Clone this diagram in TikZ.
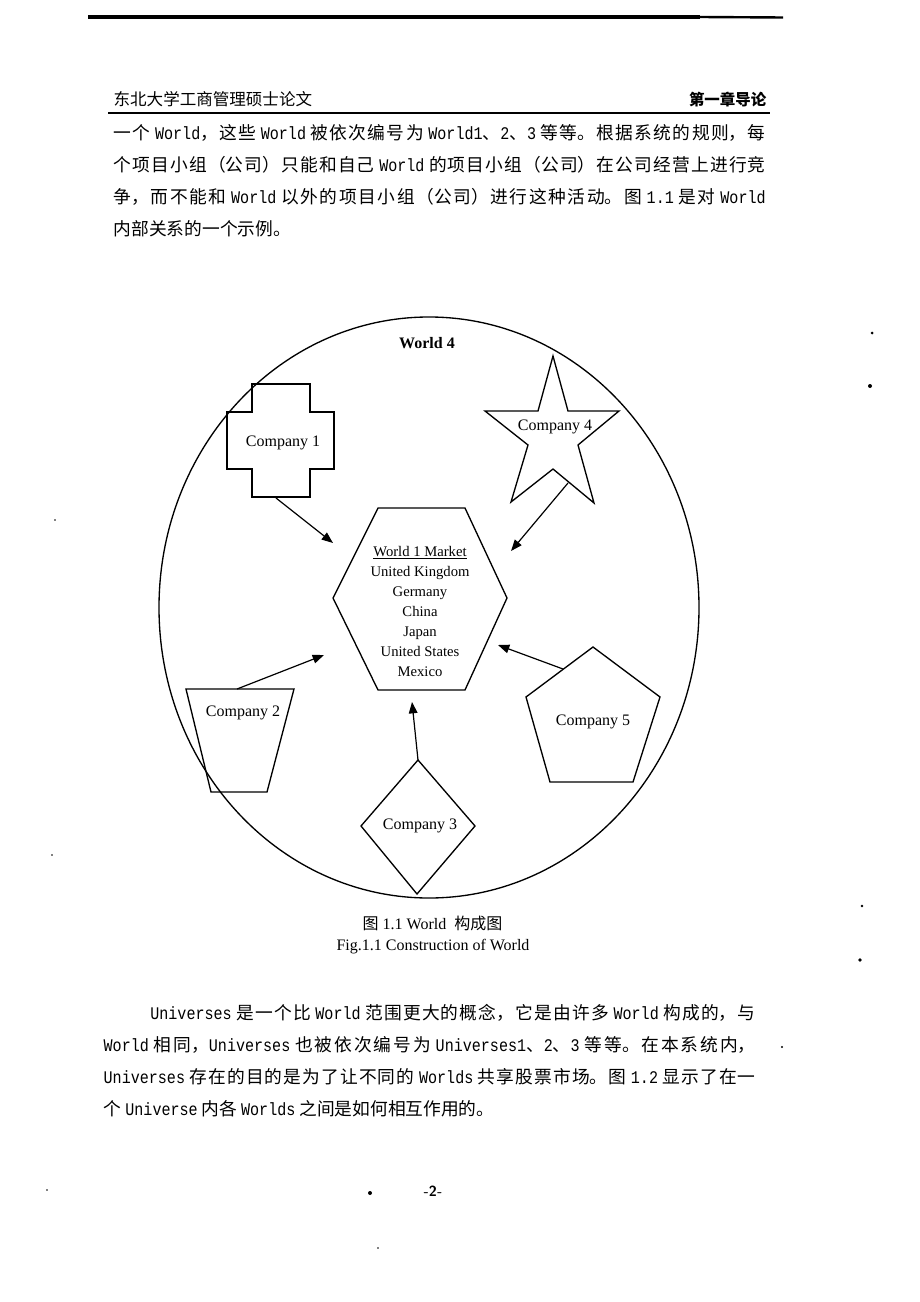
\documentclass[tikz,border=0pt]{standalone}
\usepackage{fontspec}
\setmainfont{Liberation Serif}
\newfontfamily\cjk{Noto Sans CJK SC}
\newfontfamily\asciimono[Scale=1.0,FakeStretch=0.85]{Liberation Mono}
\newcommand\mw[1]{{\asciimono #1}}
\XeTeXlinebreaklocale "zh"
\XeTeXlinebreakskip=0pt plus 3pt
\usetikzlibrary{arrows.meta}
\tikzset{
  para/.style={anchor=base west,inner sep=0pt,text width=489pt,align=justify,
    font=\cjk\fontsize{13.3}{24}\selectfont},
  lbl/.style={inner sep=0.75pt,font=\fontsize{12}{14}\selectfont},
  arr/.style={-{Triangle[length=8.5pt,width=6.5pt]},line width=0.9pt},
  speck/.style={fill=black}
}
\begin{document}
\begin{tikzpicture}[x=0.75pt,y=0.75pt,yscale=-1,xscale=1,line width=1pt]
	\fill[white] (0,0) rectangle (920,1302);
	\useasboundingbox (0,0) rectangle (920,1302);
	% page head
	\draw[line width=2.6pt] (88,17) -- (700,17);
	\draw[line width=1.8pt] (700,17) -- (783,17.5);
	\node[anchor=base west,inner sep=0pt,font=\cjk\fontsize{12.4}{14}\selectfont] (headl) at (113,106) {东北大学工商管理硕士论文};
	\node[anchor=base east,inner sep=0pt,font=\cjk\bfseries\fontsize{11.6}{14}\selectfont] (headr) at (767,106) {第一章导论};
	\draw[line width=1.2pt] (108,113) -- (770,113);

	% first paragraph
	\node[para] (parone) at (113,140) {\noindent 一个 \mw{World}，这些 \mw{World} 被依次编号为 \mw{World1}、\mw{2}、\mw{3} 等等。根据系统的规则，每\linebreak
	个项目小组（公司）只能和自己 \mw{World} 的项目小组（公司）在公司经营上进行竞\linebreak
	争，而不能和 \mw{World} 以外的项目小组（公司）进行这种活动。图 \mw{1.1} 是对 \mw{World}\linebreak
	内部关系的一个示例。};

	% the world
	\draw (429,607.5) ellipse (270 and 290.5);
	\node[inner sep=0.75pt,font=\bfseries\fontsize{12}{14}\selectfont] (world) at (427,343) {World 4};

	\draw (252,384) -- (310,384) -- (310,412) -- (334,412) -- (334,469) -- (310,469) -- (310,497) -- (252,497) -- (252,469) -- (227,469) -- (227,412) -- (252,412) -- cycle;
	\draw (553,356) -- (568,411) -- (619,411) -- (578,445) -- (594,503) -- (553,469) -- (511,502) -- (528,445) -- (485,411) -- (538,411) -- cycle;
	\draw (378,508) -- (465,508) -- (507,598) -- (465,690) -- (378,690) -- (333,598) -- cycle;
	\draw (186,689) -- (294,689) -- (267,792) -- (211,792) -- cycle;
	\draw (418,760) -- (475,826) -- (417,894) -- (361,826) -- cycle;
	\draw (593,647) -- (660,697) -- (633,782) -- (550,782) -- (526,697) -- cycle;

	\node[lbl] (comp1) at (283,443) {Company 1};
	\node[lbl] (comp4) at (555,427) {Company 4};
	\node[lbl] (comp2) at (243,713) {Company 2};
	\node[lbl] (comp5) at (593,722) {Company 5};
	\node[lbl] (comp3) at (420,826) {Company 3};
	\node[inner sep=0pt,align=center,font=\fontsize{11}{15}\selectfont] (market) at (420,611) {\underline{World 1 Market}\\United Kingdom\\Germany\\China\\Japan\\United States\\Mexico};

	\coordinate (out1) at (276,498);
	\coordinate (in1) at (333,543);
	\coordinate (out4) at (568,483);
	\coordinate (in4) at (511,551);
	\coordinate (out2) at (237,689);
	\coordinate (in2) at (324,655);
	\coordinate (out5) at (563,669);
	\coordinate (in5) at (498,645);
	\coordinate (out3) at (418,760);
	\coordinate (in3) at (412,702);
	\draw[arr] (out1) -- (in1);
	\draw[arr] (out4) -- (in4);
	\draw[arr] (out2) -- (in2);
	\draw[arr] (out5) -- (in5);
	\draw[arr] (out3) -- (in3);

	% caption
	\node[inner sep=0pt,font=\fontsize{12}{14}\selectfont] (capcn) at (432.5,923) {{\cjk 图} 1.1 World\ \ {\cjk 构成图}};
	\node[inner sep=0pt,font=\fontsize{12}{14}\selectfont] (capen) at (433,947) {Fig.1.1 Construction of World};

	% second paragraph
	\node[para] (partwo) at (103,1019) {\noindent\hspace*{35pt}\mw{Universes} 是一个比 \mw{World} 范围更大的概念，它是由许多 \mw{World} 构成的，与\linebreak
	\mw{World} 相同，\mw{Universes} 也被依次编号为 \mw{Universes1}、\mw{2}、\mw{3} 等等。在本系统内，\linebreak
	\mw{Universes} 存在的目的是为了让不同的 \mw{Worlds} 共享股票市场。图 \mw{1.2} 显示了在一\linebreak
	个 \mw{Universe} 内各 \mw{Worlds} 之间是如何相互作用的。};

	% page foot
	\node[inner sep=0pt,font=\sffamily\bfseries\fontsize{11}{12}\selectfont] (pagenum) at (433,1191) {-2-};

	% scan specks
	\fill[speck] (872,333) circle (1.5);
	\fill[speck] (870,386) circle (2);
	\fill[speck] (862,906) circle (1.3);
	\fill[speck] (860,960) circle (1.8);
	\fill[speck] (782,1047) circle (1.2);
	\fill[speck] (370,1193) circle (2);
	\fill[speck] (55,520) circle (0.9);
	\fill[speck] (52,855) circle (0.9);
	\fill[speck] (47,1190) circle (0.9);
	\fill[speck] (378,1248) circle (0.8);
\end{tikzpicture}
\end{document}
